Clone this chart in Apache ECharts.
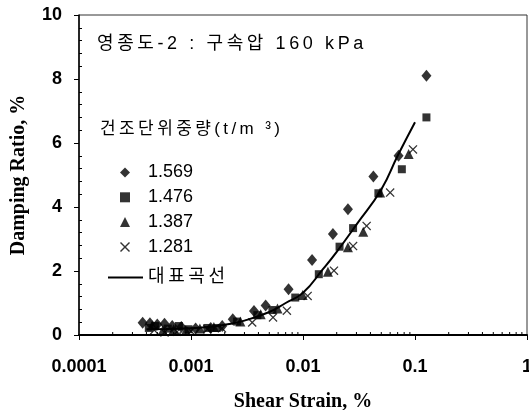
<!DOCTYPE html>
<html>
<head>
<meta charset="utf-8">
<script src="https://cdn.jsdelivr.net/npm/echarts@6/dist/echarts.min.js"></script>
<style>
  html, body { margin: 0; padding: 0; background: #fff; }
  #chart { width: 529px; height: 410px; }
</style>
</head>
<body>
<div id="chart"></div>
<script>
// Damping ratio vs shear strain for four dry unit weights (t/m³)
const xTickLabels = ['0.0001', '0.001', '0.01', '0.1', '1'];
const yTickLabels = ['0', '2', '4', '6', '8', '10'];

// [shear strain %, damping ratio %]
const series1569 = [
  [0.00037, 0.38], [0.00043, 0.37], [0.0005, 0.33], [0.00058, 0.35], [0.00068, 0.28],
  [0.00082, 0.25], [0.0011, 0.2], [0.0015, 0.22], [0.0019, 0.28], [0.00236, 0.49],
  [0.00365, 0.75], [0.00464, 0.92], [0.00743, 1.43], [0.01205, 2.34], [0.0185, 3.16],
  [0.0252, 3.93], [0.0425, 4.95], [0.0713, 5.6], [0.1265, 8.1]
];
const series1476 = [
  [0.00042, 0.22], [0.00048, 0.28], [0.00062, 0.2], [0.00078, 0.28], [0.00095, 0.18],
  [0.0014, 0.22], [0.0017, 0.22], [0.00258, 0.42], [0.00391, 0.62], [0.00533, 0.78],
  [0.00853, 1.17], [0.01384, 1.9], [0.0212, 2.76], [0.028, 3.34], [0.0471, 4.43],
  [0.0763, 5.18], [0.1265, 6.8]
];
const series1387 = [
  [0.00045, 0.3], [0.00056, 0.15], [0.0007, 0.18], [0.0009, 0.15], [0.0012, 0.2],
  [0.0016, 0.25], [0.00276, 0.42], [0.00419, 0.65], [0.00592, 0.83], [0.00993, 1.25],
  [0.0167, 1.98], [0.0252, 2.74], [0.0345, 3.23], [0.0488, 4.45], [0.0877, 5.66]
];
const series1281 = [
  [0.00047, 0.15], [0.00058, 0.08], [0.00075, 0.1], [0.001, 0.12], [0.0014, 0.18],
  [0.00189, 0.21], [0.00352, 0.39], [0.0054, 0.55], [0.00718, 0.76], [0.011, 1.22],
  [0.0189, 2.01], [0.028, 2.78], [0.037, 3.41], [0.06, 4.45], [0.0959, 5.8]
];
// representative curve
const curve = [
  [0.0004, 0.18], [0.0006, 0.19], [0.001, 0.21], [0.0015, 0.26], [0.002, 0.32],
  [0.003, 0.45], [0.005, 0.72], [0.007, 1.0], [0.01, 1.32], [0.015, 2.05],
  [0.02, 2.6], [0.03, 3.45], [0.05, 4.55], [0.07, 5.6], [0.1, 6.65]
];
// log minor tick positions along the strain axis
const minorStrainTicks = [];
[0.0001, 0.001, 0.01, 0.1].forEach(function (d) {
  [2, 3, 4, 5, 6, 7, 8, 9].forEach(function (m) { minorStrainTicks.push([+(d * m).toPrecision(3), 0]); });
});

const annotationText = '영종도-2 : 구속압 160 kPa';
const legendTitleText = '건조단위중량(t/m ³)';
const curveName = '대표곡선';

// widen text by placing a thin space between characters
function spaced(s) { return Array.from(s).join('\u2009'); }

const crossPath = 'path://M1,0 L5,4 L9,0 L10,1 L6,5 L10,9 L9,10 L5,6 L1,10 L0,9 L4,5 L0,1 Z';
const sansKr = '"Liberation Sans", Arial, "Noto Sans CJK KR", sans-serif';
const boldSans = '"Liberation Sans", Arial, sans-serif';
const boldSerif = '"Liberation Serif", "Times New Roman", serif';

const chart = echarts.init(document.getElementById('chart'), null, { renderer: 'canvas' });
chart.setOption({
  animation: false,
  backgroundColor: '#fff',
  grid: {
    left: 79, top: 15, right: 2, bottom: 75,
    outerBoundsMode: 'none',
    show: true, borderColor: '#333', borderWidth: 1, backgroundColor: 'transparent'
  },
  xAxis: {
    type: 'log', logBase: 10, min: 0.0001, max: 1,
    name: 'Shear Strain, %', nameLocation: 'middle', nameGap: 57,
    nameTextStyle: { fontFamily: boldSerif, fontWeight: 'bold', fontSize: 20, color: '#000' },
    axisLine: { lineStyle: { color: '#000', width: 2 } },
    axisTick: { show: true, length: 5, lineStyle: { color: '#000', width: 1 } },
    splitLine: { show: false },
    axisLabel: {
      margin: 23, color: '#000', fontFamily: boldSans, fontWeight: 'bold', fontSize: 18,
      hideOverlap: false,
      formatter: function (v) {
        const i = Math.round(Math.log10(v)) + 4;
        return xTickLabels[i] !== undefined ? xTickLabels[i] : '';
      }
    }
  },
  yAxis: [{
    type: 'value', min: 0, max: 10, interval: 2,
    name: 'Damping Ratio, %', nameLocation: 'middle', nameGap: 50,
    nameTextStyle: { fontFamily: boldSerif, fontWeight: 'bold', fontSize: 20, color: '#000' },
    axisLine: { show: true, lineStyle: { color: '#000', width: 1.5 } },
    axisTick: { show: true, length: 5, lineStyle: { color: '#000', width: 1 } },
    minorTick: { show: false },
    splitLine: { show: false },
    axisLabel: {
      margin: 17, color: '#000', fontFamily: boldSans, fontWeight: 'bold', fontSize: 18,
      formatter: function (v) { return yTickLabels[Math.round(v / 2)]; }
    }
  }, {
    type: 'value', min: 0, max: 10, interval: 2, position: 'left',
    axisLine: { show: false },
    axisTick: { show: false, inside: true },
    minorTick: { show: true, splitNumber: 5, length: 3, lineStyle: { color: '#000', width: 1 } },
    axisLabel: { show: false },
    splitLine: { show: false }
  }],
  legend: [{
    orient: 'vertical', left: 120, top: 163.5, padding: 0,
    itemWidth: 10, itemHeight: 10, itemGap: 6.8,
    textStyle: { fontFamily: sansKr, fontSize: 18, lineHeight: 18, color: '#000', padding: [0, 0, 0, 13] },
    data: [
      { name: '1.569', icon: 'diamond' },
      { name: '1.476', icon: 'rect' },
      { name: '1.387', icon: 'triangle' },
      { name: '1.281', icon: crossPath }
    ]
  }, {
    orient: 'vertical', left: 108, top: 268.4, padding: 0,
    itemWidth: 35, itemHeight: 2,
    textStyle: { fontFamily: sansKr, fontSize: 18, lineHeight: 18, color: '#000' },
    formatter: function (n) { return spaced(n); },
    data: [{ name: curveName, icon: 'rect', itemStyle: { color: '#000' } }]
  }],
  graphic: [
    {
      type: 'text', left: 97, top: 35,
      style: { text: spaced(annotationText), font: '18px ' + sansKr, fill: '#000' }
    },
    {
      type: 'text', left: 100, top: 121,
      style: { text: spaced(legendTitleText), font: '17px ' + sansKr, fill: '#000' }
    }
  ],
  series: [
    {
      type: 'custom', silent: true, data: minorStrainTicks, z: 1,
      renderItem: function (params, api) {
        const p = api.coord([api.value(0), 0]);
        return {
          type: 'line',
          shape: { x1: p[0], y1: p[1], x2: p[0], y2: p[1] - 3 },
          style: { stroke: '#000', lineWidth: 1 }
        };
      }
    },
    {
      name: curveName, type: 'line', data: curve, smooth: true, showSymbol: false, symbol: 'none',
      lineStyle: { color: '#000', width: 2 }, itemStyle: { color: '#000' }, z: 3
    },
    { name: '1.569', type: 'scatter', data: series1569, symbol: 'diamond', symbolSize: [10, 12], itemStyle: { color: '#000' }, z: 4 },
    { name: '1.476', type: 'scatter', data: series1476, symbol: 'rect', symbolSize: 8, itemStyle: { color: '#000' }, z: 4 },
    { name: '1.387', type: 'scatter', data: series1387, symbol: 'triangle', symbolSize: 10, itemStyle: { color: '#000' }, z: 4 },
    { name: '1.281', type: 'scatter', data: series1281, symbol: crossPath, symbolSize: 9, itemStyle: { color: '#000' }, z: 4 }
  ]
});
</script>
</body>
</html>
